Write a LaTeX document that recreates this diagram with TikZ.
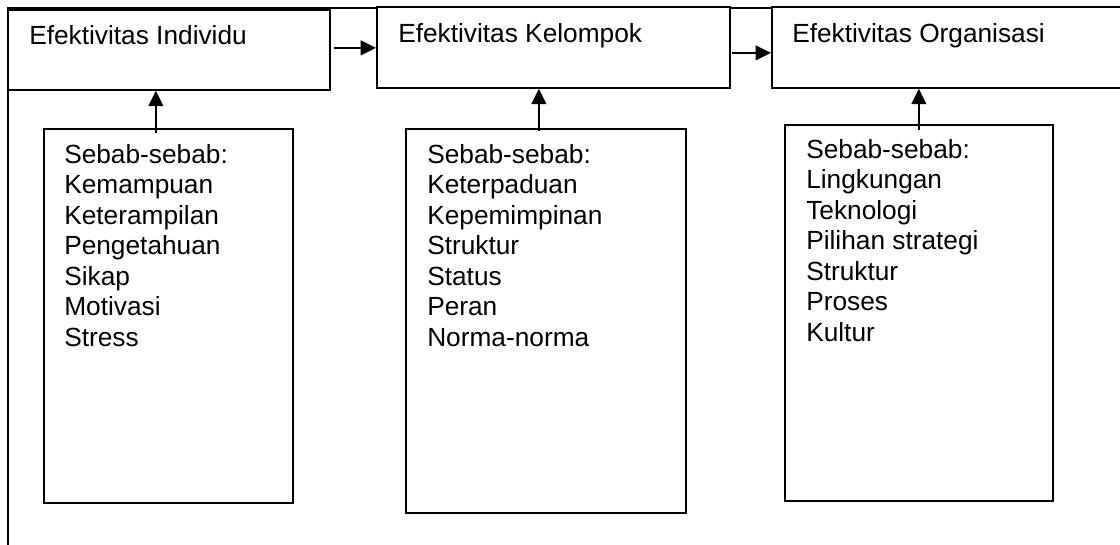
\documentclass[tikz,border=0pt]{standalone}
\usepackage{fontspec}
\setmainfont{Liberation Sans}
\usetikzlibrary{arrows.meta,positioning}
\newcommand{\sebablist}[1]{\begin{tabular}[t]{@{}l@{}}#1\end{tabular}}

\tikzset{
  effbox/.style={draw, fill=white, line width=1.3pt, anchor=north west, inner sep=0pt, minimum height=60.75pt},
  causebox/.style={draw, fill=white, line width=1.3pt, anchor=north west, inner sep=0pt},
  lbl/.style={anchor=base west, inner sep=0pt},
  arr/.style={line width=1.3pt, -{Triangle[length=11.5pt,width=11pt]}},
}

\begin{document}
\begin{tikzpicture}[x=0.75pt, y=-0.75pt, font=\fontsize{19.7}{22.9}\selectfont]
	\useasboundingbox (0,0) rectangle (1120,544);
	% outer frame
	\coordinate (frameA) at (8,570);
	\coordinate (frameB) at (8,8);
	\coordinate (frameC) at (1140,8);
	\draw[line width=1.3pt] (frameA) -- (frameB) -- (frameC);

	% efektivitas
	\node[effbox, minimum width=241.5pt, minimum height=60pt] (ind) at (7,9) {};
	\node[effbox, minimum width=264.75pt] (kel) at (376,6) {};
	\node[effbox, minimum width=277.5pt] (org) at (771,6) {};
	\node[lbl] (indT) at (29,44) {Efektivitas Individu};
	\node[lbl] (kelT) at (398,42) {Efektivitas Kelompok};
	\node[lbl] (orgT) at (792,42) {Efektivitas Organisasi};

	% sebab-sebab
	\node[causebox, minimum width=186.75pt, minimum height=280.5pt] (ca) at (43,128) {};
	\node[causebox, minimum width=210pt, minimum height=288pt] (cb) at (405,128) {};
	\node[causebox, minimum width=201pt, minimum height=282pt] (cc) at (784,124) {};
	\node[lbl] (caT) at (64,163) {\sebablist{Sebab-sebab:\\Kemampuan\\Keterampilan\\Pengetahuan\\Sikap\\Motivasi\\Stress}};
	\node[lbl] (cbT) at (427,163) {\sebablist{Sebab-sebab:\\Keterpaduan\\Kepemimpinan\\Struktur\\Status\\Peran\\Norma-norma}};
	\node[lbl] (ccT) at (806,158) {\sebablist{Sebab-sebab:\\Lingkungan\\Teknologi\\Pilihan strategi\\Struktur\\Proses\\Kultur}};

	% arrows
	\draw[arr] ([xshift=2.25pt,yshift=1.5pt]ind.east) -- ([yshift=1.5pt]ind.east -| kel.west);
	\draw[arr] ([xshift=0.75pt,yshift=-4.1pt]kel.east) -- ([yshift=-4.1pt]kel.east -| org.west);
	\draw[arr] ([xshift=-9.4pt,yshift=-3.75pt]ca.north) -- ([xshift=-9.4pt]ca.north |- ind.south);
	\draw[arr] ([xshift=-5.25pt,yshift=-2.25pt]cb.north) -- ([xshift=-5.25pt]cb.north |- kel.south);
	\draw[arr] ([yshift=-4.5pt]cc.north) -- (cc.north |- org.south);
\end{tikzpicture}
\end{document}
